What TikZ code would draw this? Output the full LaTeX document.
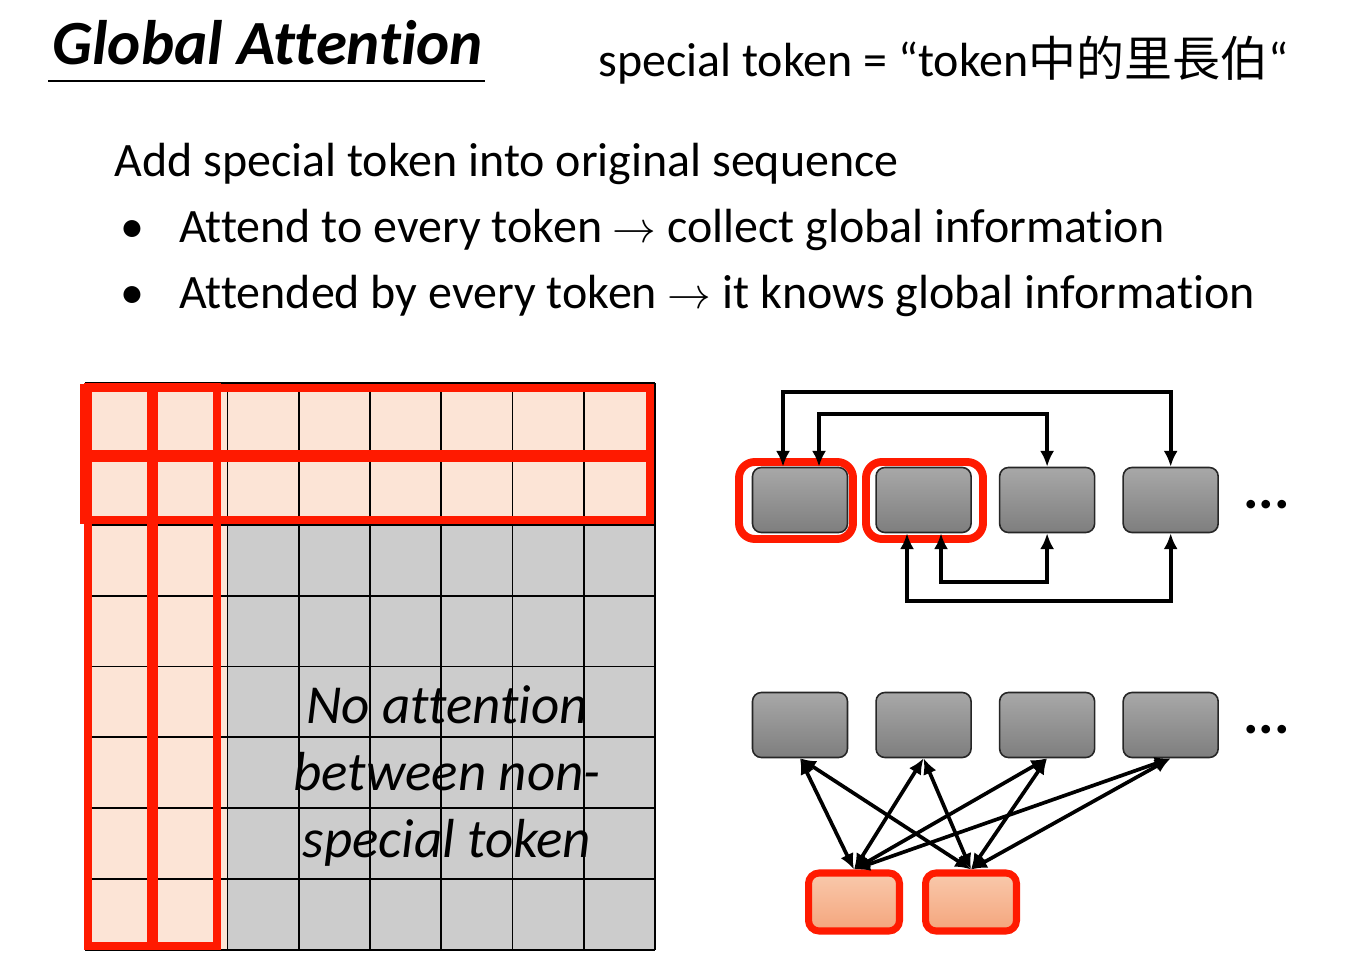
\documentclass[tikz,border=0pt]{standalone}
\usepackage{fontspec}
\setmainfont{Carlito}[Ligatures=NoCommon]
\newfontfamily\cjk{Noto Sans CJK TC}
\usetikzlibrary{arrows.meta, positioning}
\usepackage{xcolor}
\definecolor{cellpeach}{HTML}{FCE4D6}
\definecolor{cellgray}{HTML}{CCCCCC}
\definecolor{hlred}{HTML}{FF1A00}
\definecolor{toktop}{HTML}{A8A8A8}
\definecolor{tokbot}{HTML}{7E7E7E}
\definecolor{spectop}{HTML}{F9C9AC}
\definecolor{specbot}{HTML}{F4A57C}

\begin{document}
\begin{tikzpicture}[x={(0.02cm,0)}, y={(0,-0.02cm)}, node distance=0.54cm, >={Latex[length=9pt,width=8pt]},
  txt/.style={inner sep=0pt, font=\fontsize{27.3}{33}\selectfont},
  tok/.style={rectangle, rounded corners=5pt, draw=black!85, line width=0.9pt, top color=toktop, bottom color=tokbot, minimum width=1.9cm, minimum height=1.3cm, inner sep=0pt},
  spec/.style={rectangle, rounded corners=6pt, draw=hlred, line width=4pt, top color=spectop, bottom color=specbot, minimum width=1.82cm, minimum height=1.16cm, inner sep=0pt},
  hl/.style={draw=hlred, line width=4.5pt},
  gridline/.style={draw=black, line width=1pt},
  more/.style={inner sep=0pt, font=\fontsize{33}{40}\selectfont\bfseries, yshift=-0.1cm},
  link/.style={<->, line width=2.1pt}]
  \useasboundingbox[fill=white] (0,0) rectangle (1369,979);

  % heading and text
  \node[txt, font=\fontsize{35.8}{40}\selectfont\bfseries\itshape, anchor=base west] (title) at (52,65) {Global Attention};
  \draw[line width=1.2pt] (48,81) -- (485,81);
  \node[txt, anchor=base west] (special) at (598,77) {special token = “token{\cjk 中的里長伯}“};
  \node[txt, anchor=base west] (intro) at (114,177) {Add special token into original sequence};
  \node[txt, anchor=base] (dot1) at (132,243) {•};
  \node[txt, anchor=base west] (point1) at (179,243) {Attend to every token $\rightarrow$ collect global information};
  \node[txt, anchor=base] (dot2) at (132,309) {•};
  \node[txt, anchor=base west] (point2) at (179,309) {Attended by every token $\rightarrow$ it knows global information};

  % attention matrix
  \fill[cellgray] (85,383) rectangle (655,950);
  \fill[cellpeach] (85,383) rectangle (655,525);
  \fill[cellpeach] (85,383) rectangle (228,950);
  \foreach \k in {0,...,8} {
    \draw[gridline] (85+71.25*\k,383) -- (85+71.25*\k,950);
    \draw[gridline] (85,383+70.875*\k) -- (655,383+70.875*\k);
  }
  \draw[hl] (88,387) rectangle (151,946);
  \draw[hl] (154,387) rectangle (217,946);
  \draw[hl] (84,388) rectangle (650,454);
  \draw[hl] (84,458) rectangle (650,520);
  \node[align=center, inner sep=0pt, font=\fontsize{31.3}{38.1}\selectfont\itshape] (noatt) at (447,776) {No attention\\between non-\\special token};

  % special tokens attend / are attended
  \node[tok] (t1) at (800,500) {};
  \node[tok, right=of t1] (t2) {};
  \node[tok, right=of t2] (t3) {};
  \node[tok, right=of t3] (t4) {};
  \node[more, right=0.48cm of t4] (more1) {...};
  \draw[hl, rounded corners=9pt] (739,462) rectangle (853,539);
  \draw[hl, rounded corners=9pt] (866,462) rectangle (983,539);
  \coordinate (up1) at (783,392);
  \coordinate (up2) at (819,414);
  \coordinate (down1) at (941,582);
  \coordinate (down2) at (907,601);
  \draw[link] (up1 |- t1.north) -- (up1) -| (t4.north);
  \draw[link] (up2 |- t1.north) -- (up2) -| (t3.north);
  \draw[link] (down1 |- t2.south) -- (down1) -| (t3.south);
  \draw[link] (down2 |- t2.south) -- (down2) -| (t4.south);

  % extra special tokens
  \node[tok] (g1) at (800,725) {};
  \node[tok, right=of g1] (g2) {};
  \node[tok, right=of g2] (g3) {};
  \node[tok, right=of g3] (g4) {};
  \node[more, right=0.48cm of g4] (more2) {...};
  \node[spec] (s1) at (854,902) {};
  \node[spec, right=0.38cm of s1] (s2) {};
  \draw[link] (s1.north) -- (g1.south);
  \draw[link] (s1.north) -- (g2.south);
  \draw[link] (s1.north) -- (g3.south);
  \draw[link] (s1.north) -- (g4.south);
  \draw[link] (s2.north) -- (g1.south);
  \draw[link] (s2.north) -- (g2.south);
  \draw[link] (s2.north) -- (g3.south);
  \draw[link] (s2.north) -- (g4.south);
\end{tikzpicture}
\end{document}
